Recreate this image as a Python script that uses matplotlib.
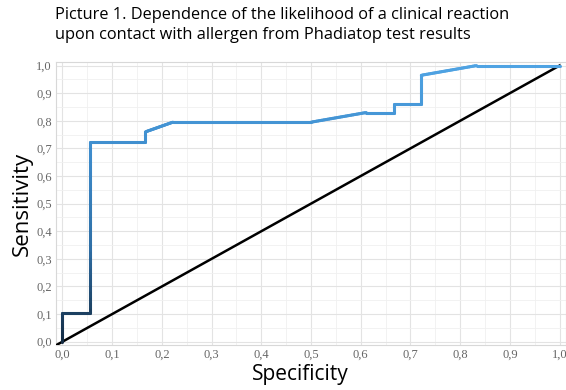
import numpy as np
import matplotlib
matplotlib.use("Agg")
import matplotlib.pyplot as plt
from matplotlib.collections import LineCollection
from matplotlib.colors import LinearSegmentedColormap
from matplotlib.ticker import FuncFormatter, MultipleLocator

# ROC curve points (specificity-like x, sensitivity y)
roc_x = [0.0, 0.0, 0.056, 0.056, 0.167, 0.167, 0.222, 0.5, 0.611, 0.667, 0.667, 0.722, 0.722, 0.833, 1.0]
roc_y = [0.0, 0.105, 0.105, 0.725, 0.725, 0.76, 0.795, 0.795, 0.83, 0.83, 0.862, 0.862, 0.965, 1.0, 1.0]
diag = [-0.02, 1.0]
ticks = [0.0, 0.1, 0.2, 0.3, 0.4, 0.5, 0.6, 0.7, 0.8, 0.9, 1.0]

fig = plt.figure(figsize=(5.66, 3.90), dpi=100)
ax = fig.add_axes([56/566, 1 - 345/390, 510/566, 283/390])

ax.set_xlim(-0.013, 1.013)
ax.set_ylim(-0.012, 1.013)

ax.xaxis.set_major_locator(MultipleLocator(0.1))
ax.yaxis.set_major_locator(MultipleLocator(0.1))
ax.xaxis.set_minor_locator(MultipleLocator(0.05))
ax.yaxis.set_minor_locator(MultipleLocator(0.05))
ax.grid(which='major', color='#e3e3e3', lw=0.8)
ax.grid(which='minor', color='#f0f0f0', lw=0.6)
ax.set_axisbelow(True)

fmt = FuncFormatter(lambda v, p: f"{v:.1f}".replace('.', ','))
ax.xaxis.set_major_formatter(fmt)
ax.yaxis.set_major_formatter(fmt)
ax.tick_params(which='both', length=0, labelsize=9, labelcolor='#666666', pad=3)
for lab in ax.get_xticklabels() + ax.get_yticklabels():
    lab.set_family('Liberation Serif')

for s in ['top', 'left', 'bottom', 'right']:
    ax.spines[s].set_color('#d8d8d8')
    ax.spines[s].set_linewidth(0.8)

# diagonal
ax.plot(diag, diag, color='black', lw=1.8, zorder=3)

# gradient ROC curve
px, py = [], []
for i in range(len(roc_x) - 1):
    n = 30
    t = np.linspace(0, 1, n, endpoint=False)
    px.extend(roc_x[i] + (roc_x[i+1] - roc_x[i]) * t)
    py.extend(roc_y[i] + (roc_y[i+1] - roc_y[i]) * t)
px.append(roc_x[-1]); py.append(roc_y[-1])
pts = np.array([px, py]).T.reshape(-1, 1, 2)
segs = np.concatenate([pts[:-1], pts[1:]], axis=1)
cmap = LinearSegmentedColormap.from_list('gg', ['#132B43', '#2f6fa6', '#3d8bcb', '#4fa3e3'])
cvals = np.array(py[:-1])
cvals = np.clip(cvals, 0, 1)
lc = LineCollection(segs, cmap=cmap, norm=plt.Normalize(0, 1), lw=2.2, zorder=4,
                    capstyle='round', joinstyle='round')
lc.set_array(cvals)
ax.add_collection(lc)

ax.set_xlabel('Specificity', family='Open Sans', fontsize=15, labelpad=2, x=0.48)
ax.set_ylabel('Sensitivity', family='Open Sans', fontsize=16, labelpad=2)

fig.text(55/566, 1 - 7/390, 'Picture 1. Dependence of the likelihood of a clinical reaction\nupon contact with allergen from Phadiatop test results',
         family='Open Sans', fontsize=11.8, va='top', ha='left', linespacing=1.35, color='black')

fig.savefig('out.png', dpi=100)
